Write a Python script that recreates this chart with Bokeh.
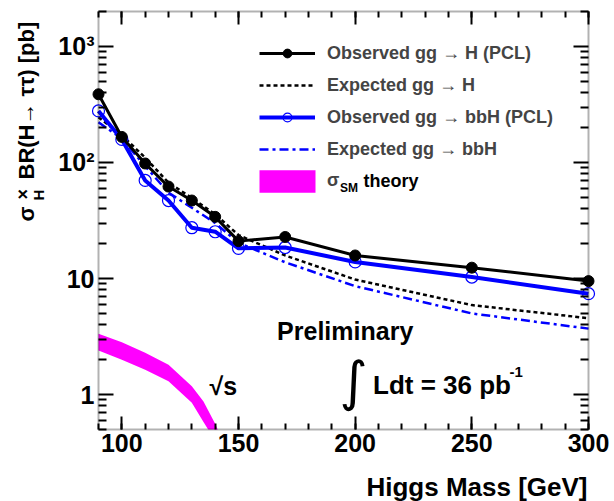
import math
from bokeh.plotting import figure
from bokeh.models import (Range1d, FixedTicker, LinearAxis, LogAxis, Label, BoxAnnotation,
                          Legend, LegendItem, CustomJSTickFormatter)
from bokeh.embed import file_html
from bokeh.resources import INLINE

# ---------------- data ----------------
mass = [90, 100, 110, 120, 130, 140, 150, 170, 200, 250, 300]
obs_ggH = [387, 166, 98, 62, 47, 34, 21, 22.8, 15.8, 12.4, 9.5]
exp_ggH = [245, 172, 110, 67, 49.5, 35.8, 23.7, 15.8, 9.8, 5.9, 4.55]
obs_bbH = [278, 158, 70, 47, 27.4, 25.3, 18.2, 18.5, 13.9, 10.3, 7.4]
exp_bbH = [222, 160, 93, 55, 40.7, 30.1, 20.3, 13.8, 8.6, 5.0, 3.7]

theory_mass = [90, 100, 110, 120, 130, 135, 140, 145, 150]
theory_hi = [3.35, 2.83, 2.29, 1.81, 1.18, 0.87, 0.56, 0.33, 0.2]
theory_lo = [2.4, 2.0, 1.64, 1.30, 0.85, 0.58, 0.40, 0.22, 0.13]

x_lim = (90, 300)
y_lim = (0.5, 2000)
x_major = [100, 150, 200, 250, 300]
x_minor = list(range(90, 301, 10))
y_major = [1, 10, 100, 1000]
y_major_labels = ["1", "10", "10²", "10³"]
y_minor = [0.5, 0.6, 0.7, 0.8, 0.9] + [k * d for d in (1, 10, 100) for k in range(2, 10)] + [2000]

legend_labels = ["Observed gg → H (PCL)", "Expected gg → H",
                 "Observed gg → bbH (PCL)", "Expected gg → bbH"]

FONT = "Liberation Sans"
BLUE = "#0000ff"
MAGENTA = "#ff00ff"

# ---------------- layout geometry (canvas pixels) ----------------
W, H = 614, 501
FL, FR, FT, FB = 98, 588, 11, 429          # the drawn axes box
sx = (FR - FL) / (x_lim[1] - x_lim[0])
ly = (FB - FT) / (math.log10(y_lim[1]) - math.log10(y_lim[0]))
xr = Range1d(x_lim[0] - FL / sx, x_lim[1] + (W - FR) / sx)
yr = Range1d(10 ** (math.log10(y_lim[0]) - (H - FB) / ly),
             10 ** (math.log10(y_lim[1]) + FT / ly))

p = figure(width=W, height=H, output_backend="svg", toolbar_location=None,
           x_range=xr, y_range=yr, y_axis_type="log",
           x_axis_location=None, y_axis_location=None,
           min_border=0)
p.grid.visible = False
p.outline_line_color = None
p.background_fill_color = "white"
p.border_fill_color = "white"

xticker = FixedTicker(ticks=x_major, minor_ticks=x_minor)
yticker = FixedTicker(ticks=y_major, minor_ticks=y_minor)


def style(ax, tin, min_in, labels=True):
    ax.axis_line_color = None
    ax.major_tick_in = tin
    ax.major_tick_out = 0
    ax.minor_tick_in = min_in
    ax.minor_tick_out = 0
    ax.major_tick_line_width = 2
    ax.minor_tick_line_width = 2
    ax.major_tick_line_color = "black"
    ax.minor_tick_line_color = "black"
    if labels:
        ax.major_label_text_font = FONT
        ax.major_label_text_font_style = "bold"
        ax.major_label_text_font_size = "25px"
        ax.major_label_text_color = "black"
    else:
        ax.formatter = CustomJSTickFormatter(code="return ''")
        ax.major_label_text_font_size = "0px"


# ---------------- glyphs ----------------
r_band = p.varea(x=theory_mass, y1=theory_lo, y2=theory_hi, fill_color=MAGENTA, fill_alpha=1)
r_ebb = p.line(mass, exp_bbH, color=BLUE, line_width=2.5, line_dash="9 4 3 4")
r_eh = p.line(mass, exp_ggH, color="black", line_width=2.5, line_dash="4 3")
r_obl = p.line(mass, obs_bbH, color=BLUE, line_width=4)
r_obp = p.scatter(mass, obs_bbH, size=12, marker="circle", line_color=BLUE,
                  fill_alpha=0, line_width=1.2)
r_ohl = p.line(mass, obs_ggH, color="black", line_width=3)
r_ohp = p.scatter(mass, obs_ggH, size=11, marker="circle", color="black")

# white mask below the axes box (hides the band below the y-range)
p.add_layout(BoxAnnotation(top=y_lim[0], fill_color="white", fill_alpha=1,
                           line_alpha=0, level="glyph"))
# axes box
p.add_layout(BoxAnnotation(left=x_lim[0], right=x_lim[1], bottom=y_lim[0], top=y_lim[1],
                           fill_alpha=0, line_color="black", line_width=2, level="guide"))

xb = LinearAxis(ticker=xticker, fixed_location=y_lim[0], bounds=x_lim)
style(xb, 13, 6)
xb.major_label_standoff = 4
p.add_layout(xb, "below")
xt = LinearAxis(ticker=xticker, fixed_location=y_lim[1], bounds=x_lim)
style(xt, 13, 6, labels=False)
p.add_layout(xt, "above")

yl = LogAxis(ticker=yticker, fixed_location=x_lim[0], bounds=y_lim)
style(yl, 15, 8)
yl.major_label_overrides = dict(zip(y_major, y_major_labels))
yl.major_label_standoff = 4
p.add_layout(yl, "left")
yrt = LogAxis(ticker=yticker, fixed_location=x_lim[1], bounds=y_lim)
style(yrt, 15, 8, labels=False)
p.add_layout(yrt, "right")


def lab(text, x, y, size, angle=0, align="left", bold=True, font=FONT):
    # x = canvas pixel of the text start, y = canvas pixel of the text's middle
    p.add_layout(Label(x=x, y=H - y, x_units="screen", y_units="screen",
                       text=text, text_font=font, text_font_size=f"{size}px",
                       text_font_style="bold" if bold else "normal",
                       text_color="black", angle=angle, text_align=align,
                       text_baseline="middle"))


def vlab(text, x, y, size, bold=True):
    # rotated text: x = canvas pixel of the text's middle, y = canvas pixel of its start
    p.add_layout(Label(x=x, y=H - y, x_units="screen", y_units="screen",
                       text=text, text_font=FONT, text_font_size=f"{size}px",
                       text_font_style="bold" if bold else "normal",
                       text_color="black", angle=math.pi / 2, text_align="left",
                       text_baseline="middle"))


# ---------------- legend ----------------
legend1 = Legend(items=[
    LegendItem(label=legend_labels[0], renderers=[r_ohl, r_ohp]),
    LegendItem(label=legend_labels[1], renderers=[r_eh]),
    LegendItem(label=legend_labels[2], renderers=[r_obl, r_obp]),
    LegendItem(label=legend_labels[3], renderers=[r_ebb]),
], location=(259, H - (42.3 + 118)), padding=0, margin=0,
    glyph_width=56, glyph_height=22, label_height=22, spacing=10,
    label_standoff=12, border_line_color=None, background_fill_alpha=0,
    label_text_font=FONT, label_text_font_style="bold", label_text_font_size="18px")
p.add_layout(legend1)

legend2 = Legend(items=[LegendItem(label="σ", renderers=[r_band])],
                 location=(252, H - 194.5), padding=0, margin=0,
                 glyph_width=70, glyph_height=28, label_height=28, label_standoff=5,
                 border_line_color=None, background_fill_alpha=0,
                 label_text_font=FONT, label_text_font_style="bold", label_text_font_size="18px")
p.add_layout(legend2)
lab("SM", 339.5, 187, 12)
lab("theory", 363, 180.3, 18)

# ---------------- annotations ----------------
lab("Preliminary", 276.6, 330, 25)
lab("√s", 209, 385, 25)
lab("∫", 339, 381, 54, bold=False, font="DejaVu Sans")
lab("Ldt = 36 pb", 372.5, 384, 26)
lab("-1", 509, 371, 15)

# axis titles
lab("Higgs Mass [GeV]", 587, 486, 26, align="right")
vlab("σ", 25.5, 221, 22)
vlab("H", 38, 200, 15)
vlab("×", 22.5, 199, 18)
vlab("BR(H→ ττ) [pb]", 25.5, 179, 22)

open("out.html", "w").write(file_html(p, INLINE))
